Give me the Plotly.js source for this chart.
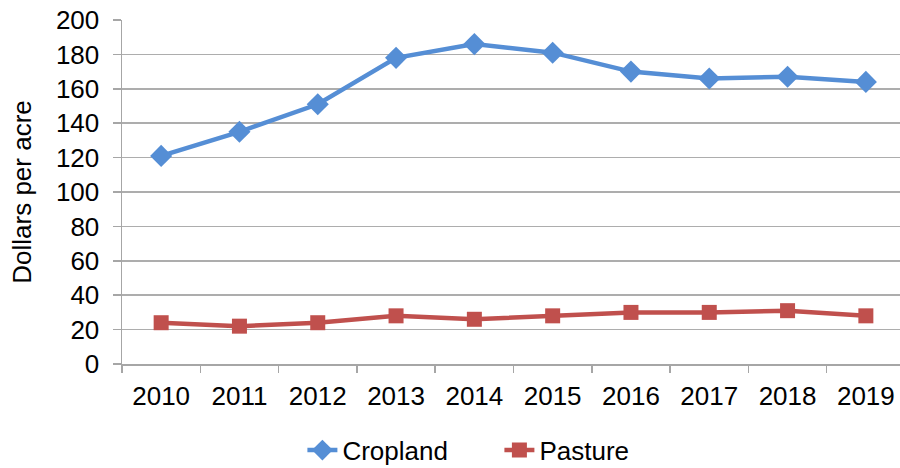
<!DOCTYPE html>
<html><head><meta charset="utf-8">
<script src="https://cdn.plot.ly/plotly-3.0.1.min.js"></script>
<style>html,body{margin:0;padding:0;background:#fff}#chart{width:900px;height:468px}</style>
</head><body><div id="chart"></div>
<script>
const years = ['2010','2011','2012','2013','2014','2015','2016','2017','2018','2019'];
const cropland = [121,135,151,178,186,181,170,166,167,164];
const pasture = [24,22,24,28,26,28,30,30,31,28];
const yTicks = [0,20,40,60,80,100,120,140,160,180,200];

const traces = [
  {x: years, y: cropland, name: 'Cropland', type: 'scatter', mode: 'lines+markers',
   line: {color: '#558ED5', width: 4.5}, marker: {symbol: 'diamond', size: 17, color: '#558ED5'}},
  {x: years, y: pasture, name: 'Pasture', type: 'scatter', mode: 'lines+markers',
   line: {color: '#C0504D', width: 4.5}, marker: {symbol: 'square', size: 15, color: '#C0504D'}}
];
const layout = {
  width: 900, height: 468,
  margin: {l: 122, r: 0, t: 20, b: 104},
  paper_bgcolor: '#fff', plot_bgcolor: '#fff',
  font: {family: 'Liberation Sans, Arial, sans-serif', size: 26, color: '#000'},
  showlegend: true,
  legend: {orientation: 'h', xref: 'container', yref: 'container',
           x: 0.336, xanchor: 'left', y: 0.038, yanchor: 'middle',
           font: {size: 26}, tracegroupgap: 0, entrywidth: 152},
  xaxis: {type: 'category', range: [-0.5, 9.436], tickson: 'boundaries',
          showgrid: false, showline: true, linecolor: '#A6A6A6', linewidth: 1.5,
          ticks: 'outside', ticklen: 7, tickcolor: '#A6A6A6', tickwidth: 1.5,
          ticklabelstandoff: 8, zeroline: false, fixedrange: true, automargin: false},
  yaxis: {range: [0, 200], tickvals: yTicks, ticktext: yTicks.map(String),
          showgrid: true, gridcolor: '#ADADAD', gridwidth: 1.5,
          showline: true, linecolor: '#A6A6A6', linewidth: 1.5,
          ticks: 'outside', ticklen: 8, tickcolor: '#A6A6A6', tickwidth: 1.5,
          ticklabelstandoff: 8, zeroline: false, automargin: false,
          title: {text: 'Dollars per acre', font: {size: 26}, standoff: 17}}
};
Plotly.newPlot('chart', traces, layout, {displayModeBar: false, staticPlot: true});
</script></body></html>
